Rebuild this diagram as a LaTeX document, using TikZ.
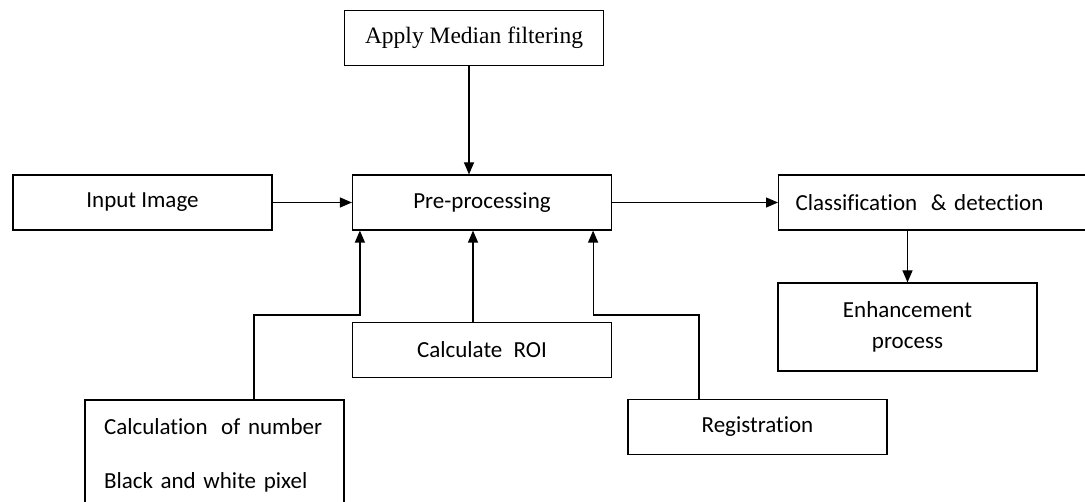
\documentclass[tikz,border=0pt]{standalone}
\usepackage{fontspec}
\setmainfont{Carlito}[Ligatures=NoCommon]
\newfontfamily\serifbox{Liberation Serif}
\usetikzlibrary{arrows.meta}
\tikzset{
    blockbox/.style={draw,line width=1.2pt,minimum width=259,minimum height=55,inner sep=0pt},
    flowarrow/.style={line width=1.2pt,-{Triangle[length=12pt,width=10pt]}},
}
\newcommand{\widegap}{\hspace{6pt} }

\begin{document}
\begin{tikzpicture}[x=1pt,y=1pt,font=\fontsize{23}{31}\selectfont]
            \useasboundingbox (0,0) rectangle (1085,501);
            \node[blockbox,font=\fontsize{23.5}{28}\serifbox] (median) at (474,463) {Apply Median filtering};
            \node[blockbox] (input) at (142.5,298.5) {Input Image};
            \node[blockbox] (pre) at (482,298.5) {Pre-processing};
            \node[blockbox,anchor=west,text width=311,inner xsep=17,align=left] (classif) at (778,298.5) {Classification\widegap\& detection};
            \node[blockbox,minimum height=88,align=center] (enh) at (907.5,174) {Enhancement\\process};
            \node[blockbox] (roi) at (482,151) {Calculate\widegap ROI};
            \node[blockbox,text width=221,inner xsep=19,minimum height=110,align=left] (calc) at (214.5,46) {Calculation\widegap of number\\[23pt]Black and white pixel};
            \node[blockbox] (reg) at (757.5,74) {Registration};
            \coordinate (elbow) at (0,186);
            % connectors
            \draw[flowarrow] ([xshift=-5]median.south) -- ([xshift=-5]median.south |- pre.north);
            \draw[flowarrow] (input) -- (pre);
            \draw[flowarrow] (pre) -- (pre -| classif.west);
            \draw[flowarrow] (enh.north |- classif.south) -- (enh.north);
            \draw[flowarrow] ([xshift=-9]roi.north) -- ([xshift=-9]roi.north |- pre.south);
            \draw[flowarrow] ([xshift=39.5]calc.north) -- ([xshift=39.5]calc.north |- elbow) -| ([xshift=8]pre.south west);
            \draw[flowarrow] ([xshift=-58.5]reg.north) -- ([xshift=-58.5]reg.north |- elbow) -| ([xshift=-19]pre.south east);
        \end{tikzpicture}
\end{document}
